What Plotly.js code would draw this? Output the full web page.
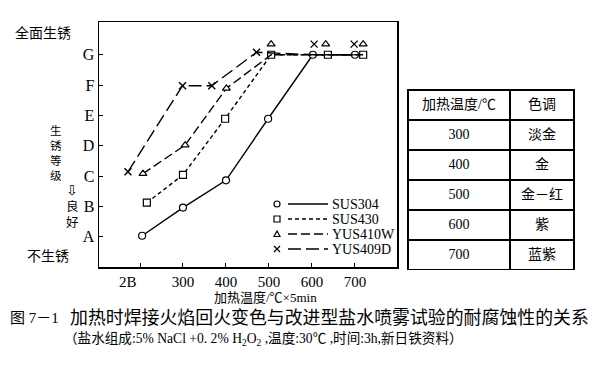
<!DOCTYPE html>
<html><head><meta charset="utf-8">
<script src="https://cdn.plot.ly/plotly-3.0.1.min.js"></script>
<style>html,body{margin:0;padding:0;background:#fff;}#chart{width:600px;height:381px;}</style>
</head><body><div id="chart"></div>
<script>
// ---- data ----
const seriesNames = ['SUS304', 'SUS430', 'YUS410W', 'YUS409D'];
const sus304X = [205, 300, 400, 498, 602, 700];
const sus304Y = [1.03, 1.96, 2.86, 4.89, 7.0, 7.0];
const sus430X = [216, 300, 398, 505, 637, 719];
const sus430Y = [2.12, 3.04, 4.89, 7.0, 7.0, 7.0];
const yus410wX = [207, 305, 401, 505, 632, 719];
const yus410wY = [3.08, 4.02, 5.89, 7.0, 7.0, 7.0];
const yus410wShown = [1, 1, 1, 0, 0, 0];
const yus409dX = [172, 299, 367, 471, 605, 698];
const yus409dY = [3.14, 5.98, 5.98, 7.08, 7.0, 7.0];
const yus409dShown = [1, 1, 1, 1, 0, 0];
// markers drawn just above grade G where curves overlap
const yus410wTopX = [505, 632, 719];
const yus410wTopY = [7.35, 7.35, 7.35];
const yus409dTopX = [605, 698];
const yus409dTopY = [7.35, 7.35];

const xTickVals = [202, 300, 400, 500, 600, 700];
const xTickText = ['2B&nbsp;&nbsp;&nbsp;&nbsp;&nbsp;&nbsp;&nbsp;', '300', '400', '500', '600', '700'];
const yTickVals = [1, 2, 3, 4, 5, 6, 7];
const yTickText = ['A', 'B', 'C', 'D', 'E', 'F', 'G'];

const tableHeader = ['加热温度/℃', '色调'];
const tableTemps = ['300', '400', '500', '600', '700'];
const tableColors = ['淡金', '金', '金－红', '紫', '蓝紫'];

// ---- layout helpers (pixel -> paper) ----
const L = 99, R = 25, T = 22, B = 110, W = 600, H = 381;
const PW = W - L - R, PH = H - T - B;
const px = v => (v - L) / PW;
const py = v => (H - B - v) / PH;

const serif = 'Liberation Serif, Times New Roman, serif';
const cjk = 'Liberation Serif, Noto Sans CJK SC, sans-serif';
const MS = 7;
const openMarker = sym => ({symbol: sym, color: 'white', size: MS, line: {color: 'black', width: 1.2}});
const crossMarker = {symbol: 'x-thin', size: MS, color: 'black', line: {color: 'black', width: 1.4}};

const styles = [
  {dash: 'solid', marker: openMarker('circle')},
  {dash: '4px,3px', marker: openMarker('square')},
  {dash: '9px,4px', marker: openMarker('triangle-up')},
  {dash: '13px,5px', marker: crossMarker}
];
const pick = (arr, flags) => arr.filter((_, i) => flags[i]);

const traces = [
  {x: sus304X, y: sus304Y, mode: 'lines+markers', line: {color: 'black', width: 1.4, dash: styles[0].dash}, marker: styles[0].marker},
  {x: sus430X, y: sus430Y, mode: 'lines+markers', line: {color: 'black', width: 1.4, dash: styles[1].dash}, marker: styles[1].marker},
  {x: yus410wX, y: yus410wY, mode: 'lines', line: {color: 'black', width: 1.4, dash: styles[2].dash}},
  {x: pick(yus410wX, yus410wShown), y: pick(yus410wY, yus410wShown), mode: 'markers', marker: styles[2].marker},
  {x: yus409dX, y: yus409dY, mode: 'lines', line: {color: 'black', width: 1.4, dash: styles[3].dash}},
  {x: pick(yus409dX, yus409dShown), y: pick(yus409dY, yus409dShown), mode: 'markers', marker: styles[3].marker},
  {x: yus410wTopX, y: yus410wTopY, mode: 'markers', marker: styles[2].marker},
  {x: yus409dTopX, y: yus409dTopY, mode: 'markers', marker: styles[3].marker},
  {type: 'table', domain: {x: [px(408), px(574)], y: [py(270), py(90)]},
   columnwidth: [102, 64],
   header: {values: tableHeader, height: 30, align: 'center', fill: {color: 'white'},
            line: {color: 'black', width: 1.5}, font: {family: cjk, size: 14, color: 'black'}},
   cells: {values: [tableTemps, tableColors], height: 30, align: 'center', fill: {color: 'white'},
           line: {color: 'black', width: 1.5}, font: {family: cjk, size: 14, color: 'black'}}}
];

function ann(text, x, y, size, opts) {
  return Object.assign({text: text, xref: 'paper', yref: 'paper', x: px(x), y: py(y), showarrow: false,
    xanchor: 'center', yanchor: 'middle', font: {family: cjk, size: size, color: 'black'}}, opts || {});
}
const annotations = [
  ann('全面生锈', 43, 33, 14),
  ann('不生锈', 48, 256, 14),
  ann('加热温度/℃×5min', 265, 297, 13),
  ann('⇩', 72, 190, 14, {font: {family: 'DejaVu Sans', size: 14, color: 'black'}}),
  ann('生<br>锈<br>等<br>级', 56, 153, 11.5),
  ann('良<br>好', 72, 214.5, 12.5),
  ann('图 7－1', 8, 318, 15, {xanchor: 'left'}),
  ann('加热时焊接火焰回火变色与改进型盐水喷雾试验的耐腐蚀性的关系', 68, 318, 17.9, {xanchor: 'left'}),
  ann('（盐水组成:5% NaCl +0. 2% H<sub>2</sub>O<sub>2</sub> ,温度:30℃ ,时间:3h,新日铁资料）', 62, 339, 13.6, {xanchor: 'left'})
];

// ---- hand-drawn legend (samples in the reference style) ----
const shapes = [];
const legRowY = [204, 219, 234, 249];
const legMarkX = 277, legLine0 = 288, legLine1 = 328, legText = 330;
seriesNames.forEach((name, i) => {
  const yy = legRowY[i];
  annotations.push(ann(name, legText, yy, 14, {xanchor: 'left', font: {family: serif, size: 14, color: 'black'}}));
  shapes.push({type: 'line', xref: 'paper', yref: 'paper', x0: px(legLine0), x1: px(legLine1), y0: py(yy), y1: py(yy),
               line: {color: 'black', width: 1.4, dash: styles[i].dash}});
  const r = 3;
  const xs = [px(legMarkX - r), px(legMarkX + r)], ys = [py(yy + r), py(yy - r)];
  const base = {xref: 'paper', yref: 'paper', line: {color: 'black', width: 1.2}};
  if (i === 0) shapes.push(Object.assign({type: 'circle', x0: xs[0], x1: xs[1], y0: ys[0], y1: ys[1]}, base));
  if (i === 1) shapes.push(Object.assign({type: 'rect', x0: xs[0], x1: xs[1], y0: ys[0], y1: ys[1]}, base));
  if (i === 2) shapes.push(Object.assign({type: 'path',
      path: `M${px(legMarkX - r)},${py(yy + r - 0.5)} L${px(legMarkX + r)},${py(yy + r - 0.5)} L${px(legMarkX)},${py(yy - r)} Z`}, base));
  if (i === 3) shapes.push(Object.assign({type: 'path',
      path: `M${xs[0]},${ys[0]} L${xs[1]},${ys[1]} M${xs[0]},${ys[1]} L${xs[1]},${ys[0]}`}, base));
});

const layout = {
  width: W, height: H, margin: {l: L, r: R, t: T, b: B},
  paper_bgcolor: 'white', plot_bgcolor: 'white',
  showlegend: false,
  xaxis: {domain: [0, px(397)], range: [104.7, 797.7], tickvals: xTickVals, ticktext: xTickText,
          showline: true, mirror: true, linecolor: 'black', linewidth: 1.5, ticks: 'inside', ticklen: 4,
          tickcolor: 'black', showgrid: false, zeroline: false, fixedrange: true,
          tickfont: {family: serif, size: 15, color: 'black'}},
  yaxis: {domain: [py(267), 1], range: [0, 8.08], tickvals: yTickVals, ticktext: yTickText,
          showline: true, mirror: true, linecolor: 'black', linewidth: 1.5, ticks: 'inside', ticklen: 4,
          tickcolor: 'black', showgrid: false, zeroline: false, fixedrange: true,
          tickfont: {family: serif, size: 16, color: 'black'}},
  annotations: annotations,
  shapes: shapes
};
Plotly.newPlot('chart', traces, layout, {displayModeBar: false, staticPlot: true});
</script></body></html>
